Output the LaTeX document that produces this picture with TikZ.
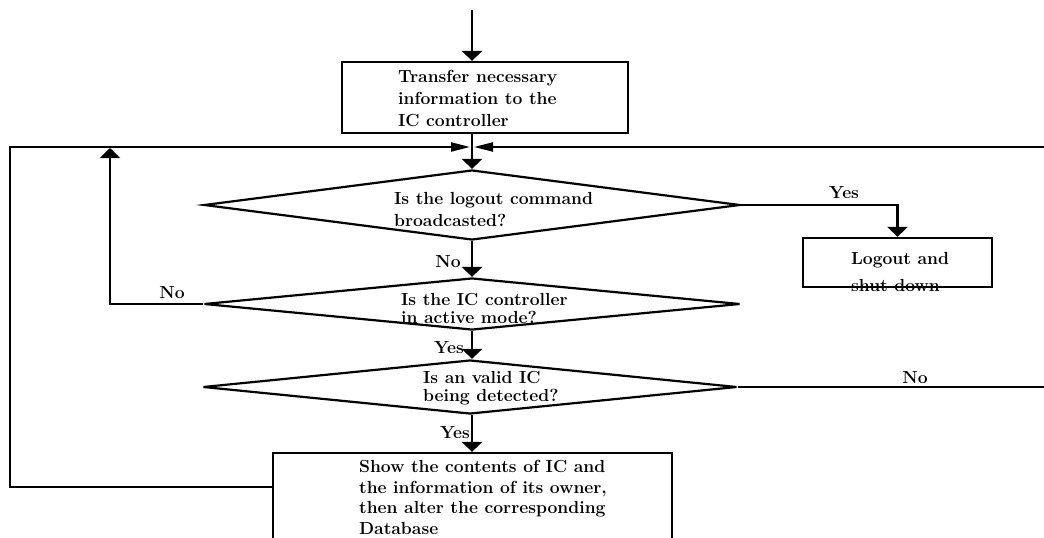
\documentclass[tikz,border=0pt]{standalone}
\usetikzlibrary{shapes.geometric,arrows.meta}

\begin{document}
\begin{tikzpicture}[x=1pt, y=-1pt, line width=2.2pt,
		blk/.style={draw, rectangle, inner sep=0pt},
		dia/.style={draw, diamond, inner sep=0pt},
		txt/.style={font=\fontsize{17.5}{#1}\selectfont\bfseries, align=left, inner sep=0pt, anchor=north west},
		txt/.default=22,
		lbl/.style={font=\fontsize{17.5}{22}\selectfont\bfseries, inner sep=0pt},
		arr/.style={-{Triangle[width=20pt,length=10pt]}},
		jarr/.style={-{Triangle[width=9pt,length=19pt]}, shorten >=2pt}]
		\clip (0, 0) rectangle (1044, 538);

		% boxes and decisions
		\node[blk, minimum width=286pt, minimum height=71pt] (trans) at (485, 97.5) {};
		\node[dia, minimum width=536pt, minimum height=70pt] (logq) at (472, 205) {};
		\node[blk, minimum width=189pt, minimum height=49pt] (logout) at (897.5, 262.5) {};
		\node[dia, minimum width=536pt, minimum height=52pt] (actq) at (472, 304) {};
		\node[dia, minimum width=534pt, minimum height=54pt] (icq) at (470, 387) {};
		\node[blk, minimum width=399pt, minimum height=120pt] (show) at (472.5, 513) {};

		% texts
		\node[txt] (transtxt) at (397, 69) {Transfer necessary\\information to the\\IC controller};
		\node[txt] (logqtxt) at (393, 191) {Is the logout command\\broadcasted?};
		\node[txt=27] (logouttxt) at (850, 251) {Logout and\\shut down};
		\node[txt=18.5] (actqtxt) at (400, 292) {Is the IC controller\\in active mode?};
		\node[txt=18] (icqtxt) at (422, 370) {Is an valid IC\\being detected?};
		\node[txt=20.7] (showtxt) at (358, 459) {Show the contents of IC and\\the information of its owner,\\then alter the corresponding\\Database};

		\node[lbl] (yes1) at (844, 193) {Yes};
		\node[lbl] (no1) at (448, 262) {No};
		\node[lbl] (no2) at (172, 293) {No};
		\node[lbl] (yes2) at (449, 348) {Yes};
		\node[lbl] (yes3) at (455, 433) {Yes};
		\node[lbl] (no3) at (915, 378) {No};

		% loop points
		\coordinate (in) at (472, 10);
		\coordinate (join) at (472, 147);
		\coordinate (lt) at (10, 147);
		\coordinate (lb) at (10, 487);
		\coordinate (rt) at (1044, 147);
		\coordinate (rb) at (1044, 387);
		\coordinate (noup) at (110, 147);

		\draw[arr] (in) -- (in |- trans.north);
		\draw[arr] (trans.south -| in) -- (logq.north);
		\draw[arr] (logq.east) -| (logout.north);
		\draw[arr] (logq.south) -- (actq.north);
		\draw[arr, shorten >=1pt] (actq.west) -| (noup);
		\draw[arr] (actq.south) -- (icq.north -| actq.south);
		\draw (icq.east) -- (rb);
		\draw[arr] (icq.south -| in) -- (show.north -| in);
		\draw[jarr] (lb -| show.west) -- (lb) -- (lt) -- (join);
		\draw[jarr] (rt) -- (join);
	\end{tikzpicture}
\end{document}
